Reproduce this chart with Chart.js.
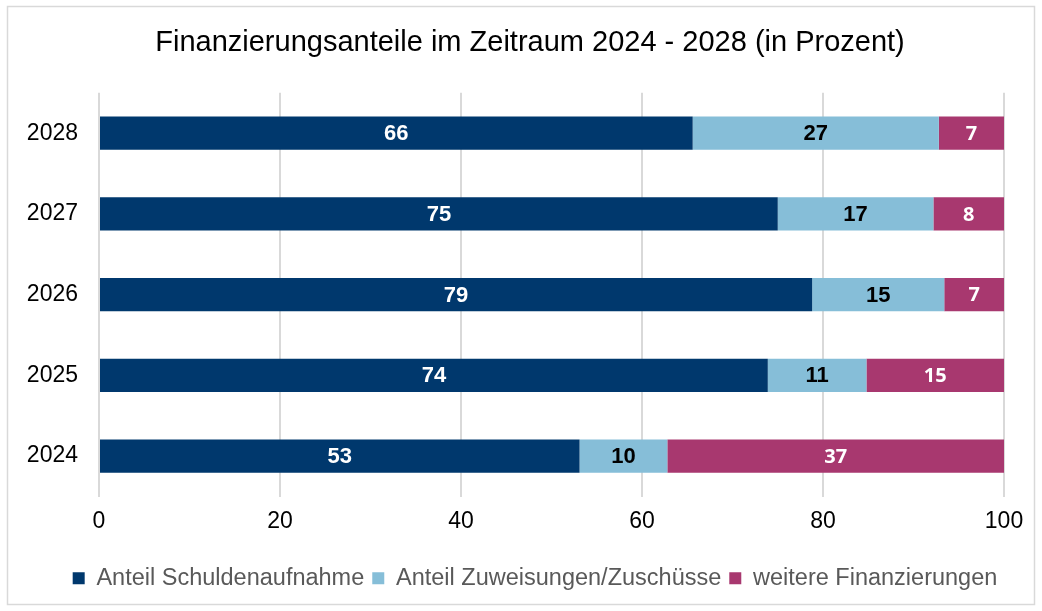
<!DOCTYPE html>
<html lang="de">
<head>
<meta charset="utf-8">
<title>Finanzierungsanteile 2024 - 2028</title>
<script src="https://cdn.jsdelivr.net/npm/chart.js@4.4.1/dist/chart.umd.min.js"></script>
<style>
  html, body { margin: 0; padding: 0; background: #fff; }
  #wrap { width: 1042px; height: 611px; position: relative; }
</style>
</head>
<body>
<div id="wrap"><canvas id="chart" width="1042" height="611"></canvas></div>
<script>
"use strict";
// Jahre (von unten nach oben) und Anteile in Prozent
const jahre = ["2024", "2025", "2026", "2027", "2028"];
const schuldenaufnahme = [53.1, 73.9, 78.8, 75.0, 65.6];
const zuweisungen = [9.7, 10.9, 14.6, 17.2, 27.2];
const weitere = [37.2, 15.2, 6.6, 7.8, 7.2];
const xTicks = [0, 20, 40, 60, 80, 100];

const FONT = "'Liberation Sans', Arial, sans-serif";

// Rahmen um das ganze Diagramm
const framePlugin = {
    id: "frame",
    beforeDraw(chart) {
        const ctx = chart.ctx;
        ctx.save();
        ctx.fillStyle = "#fff";
        ctx.fillRect(0, 0, chart.width, chart.height);
        ctx.strokeStyle = "#d9d9d9";
        ctx.lineWidth = 1.5;
        ctx.strokeRect(7.5, 6.5, chart.width - 15, chart.height - 13);
        ctx.restore();
    },
};

// Titel und Legende etwas nach rechts schieben (wie im Original)
const shiftBoxes = {
    id: "shiftBoxes",
    afterLayout(chart) {
        if (chart.titleBlock) {
            chart.titleBlock.left += 28;
            chart.titleBlock.right += 28;
        }
        if (chart.legend) {
            chart.legend.left += 33;
            chart.legend.right += 33;
        }
    },
};

// Werte mittig in die Balken schreiben (gerundet)
const valueLabels = {
    id: "valueLabels",
    afterDatasetsDraw(chart) {
        const ctx = chart.ctx;
        ctx.save();
        ctx.textAlign = "center";
        ctx.textBaseline = "middle";
        chart.data.datasets.forEach((ds, i) => {
            const meta = chart.getDatasetMeta(i);
            if (meta.hidden) return;
            ctx.font = ds.labelFont;
            ctx.fillStyle = ds.labelColor;
            meta.data.forEach((bar, j) => {
                const p = bar.getProps(["x", "base", "y"], true);
                ctx.fillText(String(Math.round(ds.data[j])), (p.x + p.base) / 2, p.y + 1);
            });
        });
        ctx.restore();
    },
};

const ctx = document.getElementById("chart").getContext("2d");
new Chart(ctx, {
    type: "bar",
    data: {
        labels: jahre,
        datasets: [
            { label: "Anteil Schuldenaufnahme", data: schuldenaufnahme, backgroundColor: "#00386d",
              labelColor: "#fff", labelFont: "bold 22px " + FONT },
            { label: "Anteil Zuweisungen/Zuschüsse", data: zuweisungen, backgroundColor: "#86bed8",
              labelColor: "#000", labelFont: "bold 22px " + FONT },
            { label: "weitere Finanzierungen", data: weitere, backgroundColor: "#a8386f",
              labelColor: "#fff", labelFont: "bold 20px 'Open Sans', sans-serif" },
        ],
    },
    options: {
        indexAxis: "y",
        responsive: false,
        animation: false,
        devicePixelRatio: 1,
        categoryPercentage: 1,
        barPercentage: 0.41,
        layout: { padding: { top: 0, left: 0, right: 38, bottom: 11 } },
        scales: {
            x: {
                stacked: true,
                min: 0,
                max: 100,
                afterBuildTicks: (scale) => { scale.ticks = xTicks.map(v => ({ value: v })); },
                afterFit: (scale) => { scale.height = 62; },
                grid: { color: "#d9d9d9", lineWidth: 2, drawTicks: false },
                border: { display: false },
                ticks: { color: "#000", font: { family: FONT, size: 23 }, padding: 11 },
            },
            y: {
                stacked: true,
                reverse: true,
                afterFit: (scale) => { scale.width = 99; },
                grid: { display: false, drawTicks: false },
                border: { display: false },
                ticks: { color: "#000", font: { family: FONT, size: 23 }, padding: 21 },
            },
        },
        plugins: {
            title: {
                display: true,
                text: "Finanzierungsanteile im Zeitraum 2024 - 2028 (in Prozent)",
                color: "#000",
                font: { family: FONT, size: 29, weight: "normal" },
                padding: { top: 26, bottom: 32 },
            },
            legend: {
                position: "bottom",
                labels: {
                    color: "#595959",
                    font: { family: FONT, size: 23.5 },
                    boxWidth: 12,
                    boxHeight: 12,
                    padding: 8,
                },
            },
            tooltip: { enabled: false },
        },
    },
    plugins: [framePlugin, shiftBoxes, valueLabels],
});
</script>
</body>
</html>
